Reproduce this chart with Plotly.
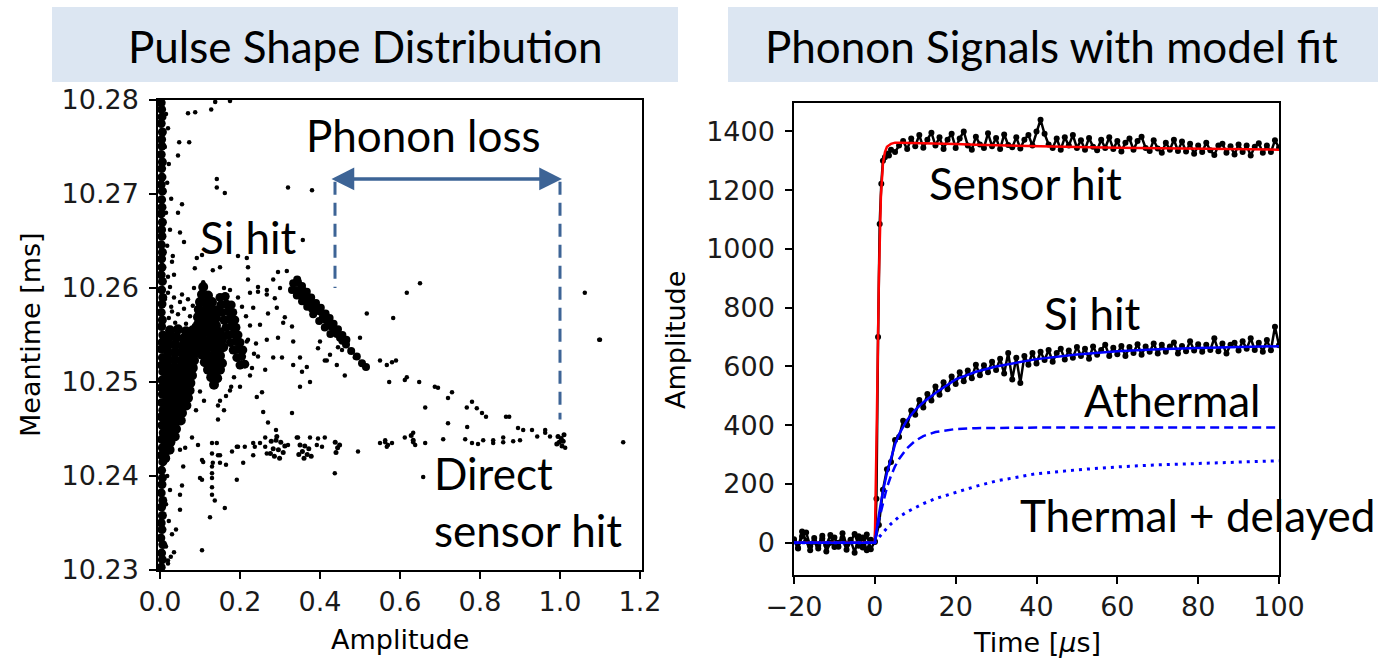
import plotly.graph_objects as go

# ---------------- Left panel: pulse shape distribution (amplitude, meantime [ms]) ----------------
band_amp = [0.003, 0.006, 0.004, 0.007, 0.002, 0.005, 0.003, 0.006, 0.004, 0.007, 0.003, 0.005, 0.006, 0.004,
            0.007, 0.003, 0.006, 0.004, 0.008, 0.005, 0.003, 0.007, 0.004, 0.006, 0.003, 0.005, 0.007, 0.004,
            0.006, 0.003, 0.005, 0.007, 0.004, 0.006, 0.003, 0.005, 0.007, 0.004, 0.006, 0.003, 0.005, 0.004,
            0.006, 0.003, 0.005, 0.004, 0.006, 0.003, 0.005, 0.004, 0.006, 0.003, 0.005, 0.004, 0.006, 0.003,
            0.005, 0.004, 0.006, 0.003, 0.005, 0.004, 0.003]
band_mt = [10.2303, 10.2311, 10.2318, 10.2327, 10.2334, 10.2343, 10.2350, 10.2358, 10.2367, 10.2374, 10.2382,
           10.2391, 10.2398, 10.2406, 10.2415, 10.2422, 10.2430, 10.2439, 10.2446, 10.2454, 10.2463, 10.2470,
           10.2478, 10.2487, 10.2494, 10.2502, 10.2511, 10.2518, 10.2526, 10.2535, 10.2542, 10.2550, 10.2559,
           10.2566, 10.2574, 10.2583, 10.2590, 10.2598, 10.2607, 10.2614, 10.2622, 10.2631, 10.2638, 10.2646,
           10.2655, 10.2662, 10.2670, 10.2679, 10.2686, 10.2694, 10.2703, 10.2710, 10.2718, 10.2727, 10.2734,
           10.2742, 10.2751, 10.2758, 10.2766, 10.2775, 10.2782, 10.2790, 10.2797]

blobB_amp = [0.025, 0.045, 0.065, 0.082,
             0.022, 0.040, 0.058, 0.076, 0.090,
             0.020, 0.038, 0.056, 0.074, 0.088,
             0.020, 0.038, 0.056, 0.072, 0.087,
             0.020, 0.037, 0.054, 0.070, 0.085,
             0.020, 0.036, 0.052, 0.068, 0.082,
             0.020, 0.035, 0.050, 0.066, 0.080,
             0.018, 0.034, 0.050, 0.064, 0.076,
             0.018, 0.033, 0.048, 0.062, 0.074,
             0.018, 0.032, 0.046, 0.060, 0.070,
             0.017, 0.031, 0.045, 0.058, 0.066,
             0.016, 0.030, 0.043, 0.055,
             0.016, 0.029, 0.041, 0.052,
             0.015, 0.028, 0.040,
             0.015, 0.027, 0.037,
             0.014, 0.026,
             0.014, 0.024,
             0.013]
blobB_mt = [10.2555, 10.2556, 10.2554, 10.2555,
            10.2547, 10.2548, 10.2546, 10.2547, 10.2548,
            10.2539, 10.2540, 10.2538, 10.2539, 10.2540,
            10.2531, 10.2532, 10.2530, 10.2531, 10.2531,
            10.2523, 10.2524, 10.2522, 10.2523, 10.2523,
            10.2515, 10.2516, 10.2514, 10.2515, 10.2515,
            10.2507, 10.2508, 10.2506, 10.2507, 10.2507,
            10.2499, 10.2500, 10.2498, 10.2499, 10.2499,
            10.2491, 10.2492, 10.2490, 10.2491, 10.2491,
            10.2483, 10.2484, 10.2482, 10.2483, 10.2483,
            10.2475, 10.2476, 10.2474, 10.2475, 10.2475,
            10.2467, 10.2468, 10.2466, 10.2467,
            10.2459, 10.2460, 10.2458, 10.2459,
            10.2451, 10.2452, 10.2450,
            10.2443, 10.2444, 10.2442,
            10.2435, 10.2436,
            10.2427, 10.2428,
            10.2419]

blobC_amp = [0.108,
             0.105, 0.120,
             0.100, 0.115, 0.130,
             0.097, 0.112, 0.127, 0.140,
             0.095, 0.110, 0.125, 0.140,
             0.095, 0.110, 0.125, 0.140,
             0.093, 0.108, 0.123, 0.138, 0.150,
             0.095, 0.110, 0.125, 0.140, 0.155,
             0.100, 0.115, 0.130, 0.145, 0.158,
             0.105, 0.120, 0.135, 0.150,
             0.112, 0.127, 0.142, 0.155,
             0.120, 0.135, 0.150,
             0.128, 0.143,
             0.135]
blobC_mt = [10.2601,
            10.2593, 10.2592,
            10.2585, 10.2584, 10.2585,
            10.2577, 10.2576, 10.2577, 10.2576,
            10.2569, 10.2568, 10.2569, 10.2568,
            10.2561, 10.2560, 10.2561, 10.2560,
            10.2553, 10.2552, 10.2553, 10.2552, 10.2553,
            10.2545, 10.2544, 10.2545, 10.2544, 10.2545,
            10.2537, 10.2536, 10.2537, 10.2536, 10.2537,
            10.2529, 10.2528, 10.2529, 10.2528,
            10.2521, 10.2520, 10.2521, 10.2520,
            10.2513, 10.2512, 10.2513,
            10.2505, 10.2504,
            10.2497]

blobD_amp = [0.150, 0.163,
             0.152, 0.166, 0.178,
             0.156, 0.170, 0.182,
             0.160, 0.174, 0.187,
             0.165, 0.178, 0.190,
             0.170, 0.183, 0.195,
             0.176, 0.189, 0.200,
             0.183, 0.196, 0.207,
             0.192, 0.204,
             0.200, 0.212]
blobD_mt = [10.2590, 10.2591,
            10.2582, 10.2583, 10.2582,
            10.2574, 10.2575, 10.2574,
            10.2566, 10.2567, 10.2566,
            10.2558, 10.2559, 10.2558,
            10.2550, 10.2551, 10.2550,
            10.2542, 10.2543, 10.2542,
            10.2534, 10.2535, 10.2534,
            10.2526, 10.2527,
            10.2518, 10.2519]

streak_amp = [0.333, 0.345, 0.340, 0.348, 0.358, 0.352, 0.363, 0.372, 0.366, 0.378, 0.386, 0.380, 0.392, 0.400,
              0.407, 0.414, 0.421, 0.428, 0.436, 0.442, 0.450, 0.456, 0.465, 0.478, 0.492, 0.505, 0.515,
              0.343, 0.355, 0.367, 0.378, 0.390, 0.402, 0.414, 0.424, 0.434, 0.445, 0.456, 0.466,
              0.330, 0.342, 0.355, 0.368, 0.383, 0.398, 0.412, 0.426]
streak_mt = [10.2605, 10.2606, 10.2598, 10.2598, 10.2597, 10.2592, 10.2591, 10.2590, 10.2585, 10.2584, 10.2582,
             10.2578, 10.2576, 10.2575, 10.2569, 10.2566, 10.2562, 10.2559, 10.2554, 10.2551, 10.2547, 10.2544,
             10.2540, 10.2533, 10.2527, 10.2520, 10.2516,
             10.2609, 10.2602, 10.2596, 10.2590, 10.2584, 10.2579, 10.2573, 10.2568, 10.2562, 10.2556, 10.2550,
             10.2545,
             10.2598, 10.2592, 10.2586, 10.2580, 10.2572, 10.2565, 10.2558, 10.2551]

cluster_amp = [0.278, 0.290, 0.302, 0.312, 0.283, 0.296, 0.308, 0.286, 0.299, 0.276, 0.292,
               0.350, 0.362, 0.372, 0.356, 0.368, 0.360, 0.347, 0.378,
               0.438, 0.444, 0.440, 0.449,
               0.995, 1.003, 1.008, 0.998, 1.005, 0.992, 1.010,
               0.628, 0.633]
cluster_mt = [10.2437, 10.2438, 10.2436, 10.2432, 10.2429, 10.2428, 10.2425, 10.2421, 10.2419, 10.2424, 10.2442,
              10.2433, 10.2432, 10.2429, 10.2426, 10.2423, 10.2419, 10.2423, 10.2421,
              10.2436, 10.2430, 10.2425, 10.2433,
              10.2442, 10.2440, 10.2437, 10.2436, 10.2432, 10.2434, 10.2444,
              10.2443, 10.2438]

sparse_pts = [
    (0.138, 10.2798), (0.175, 10.2799), (0.070, 10.2786), (0.088, 10.2787), (0.128, 10.2790), (0.048, 10.2755),
    (0.073, 10.2755), (0.045, 10.2741), (0.142, 10.2716), (0.142, 10.2707), (0.162, 10.2701), (0.320, 10.2707),
    (0.380, 10.2704), (0.055, 10.2689), (0.045, 10.2680), (0.050, 10.2659), (0.060, 10.2649), (0.357, 10.2651),
    (0.032, 10.2634), (0.092, 10.2632), (0.105, 10.2635), (0.195, 10.2634), (0.217, 10.2632), (0.087, 10.2621),
    (0.132, 10.2619), (0.150, 10.2622), (0.220, 10.2622), (0.295, 10.2617), (0.317, 10.2618), (0.035, 10.2614),
    (0.220, 10.2609), (0.283, 10.2609), (0.245, 10.2601), (0.267, 10.2598), (0.300, 10.2600), (0.108, 10.2606),
    (0.025, 10.2601), (0.617, 10.2595), (0.650, 10.2605), (1.062, 10.2595), (1.100, 10.2545), (0.517, 10.2573),
    (0.583, 10.2568), (1.158, 10.2436),
    (0.015, 10.2785), (0.020, 10.2770), (0.012, 10.2750), (0.022, 10.2732), (0.018, 10.2712), (0.028, 10.2695),
    (0.015, 10.2680), (0.025, 10.2662), (0.018, 10.2645), (0.030, 10.2628), (0.020, 10.2612), (0.018, 10.2400),
    (0.025, 10.2385), (0.015, 10.2370), (0.022, 10.2352), (0.030, 10.2338), (0.015, 10.2325), (0.020, 10.2310),
    (0.020, 10.2595), (0.035, 10.2590), (0.050, 10.2585), (0.028, 10.2580), (0.060, 10.2578), (0.045, 10.2572),
    (0.075, 10.2570), (0.022, 10.2568), (0.038, 10.2563), (0.065, 10.2562), (0.085, 10.2560), (0.030, 10.2575),
    (0.055, 10.2593), (0.070, 10.2588), (0.082, 10.2581), (0.012, 10.2588),
    (0.225, 10.2595), (0.245, 10.2596), (0.267, 10.2593), (0.287, 10.2589), (0.233, 10.2579), (0.270, 10.2573),
    (0.292, 10.2579), (0.312, 10.2569), (0.250, 10.2561), (0.308, 10.2563), (0.330, 10.2559), (0.220, 10.2545),
    (0.267, 10.2545), (0.295, 10.2547), (0.333, 10.2543), (0.208, 10.2531), (0.245, 10.2527), (0.283, 10.2526),
    (0.305, 10.2526), (0.350, 10.2526), (0.200, 10.2516), (0.225, 10.2507), (0.263, 10.2513), (0.333, 10.2518),
    (0.375, 10.2500), (0.417, 10.2523), (0.462, 10.2507), (0.175, 10.2491), (0.200, 10.2495), (0.242, 10.2484),
    (0.258, 10.2468), (0.400, 10.2543), (0.395, 10.2536), (0.425, 10.2529), (0.445, 10.2537), (0.455, 10.2534),
    (0.217, 10.2543), (0.240, 10.2541), (0.367, 10.2516), (0.355, 10.2511), (0.350, 10.2495), (0.412, 10.2523),
    (0.442, 10.2518), (0.487, 10.2526), (0.505, 10.2520), (0.500, 10.2547), (0.255, 10.2489), (0.290, 10.2449),
    (0.330, 10.2467), (0.270, 10.2457), (0.145, 10.2460),
    (0.550, 10.2523), (0.567, 10.2518), (0.580, 10.2521), (0.590, 10.2523), (0.573, 10.2500), (0.617, 10.2505),
    (0.612, 10.2502), (0.648, 10.2500), (0.687, 10.2495), (0.695, 10.2494), (0.730, 10.2489), (0.720, 10.2483),
    (0.663, 10.2473), (0.767, 10.2473), (0.780, 10.2479), (0.792, 10.2472), (0.805, 10.2467), (0.815, 10.2463),
    (0.865, 10.2463), (0.873, 10.2463), (0.720, 10.2456), (0.768, 10.2452), (0.895, 10.2451), (0.908, 10.2449),
    (0.930, 10.2449), (0.943, 10.2442), (0.963, 10.2449), (0.963, 10.2446), (0.975, 10.2442), (1.098, 10.2545),
    (0.563, 10.2436), (0.570, 10.2433), (0.580, 10.2435), (0.612, 10.2441), (0.633, 10.2446), (0.633, 10.2436),
    (0.638, 10.2433), (0.663, 10.2435), (0.708, 10.2439), (0.763, 10.2439), (0.780, 10.2435), (0.795, 10.2434),
    (0.808, 10.2438), (0.833, 10.2438), (0.833, 10.2435), (0.858, 10.2441), (0.858, 10.2436), (0.883, 10.2437),
    (0.900, 10.2438), (0.658, 10.2399), (1.013, 10.2430),
    (0.080, 10.2441), (0.095, 10.2433), (0.130, 10.2435), (0.142, 10.2435), (0.130, 10.2424), (0.150, 10.2422),
    (0.180, 10.2426), (0.192, 10.2431), (0.212, 10.2431), (0.233, 10.2435), (0.233, 10.2422), (0.250, 10.2435),
    (0.263, 10.2431), (0.320, 10.2433), (0.342, 10.2441), (0.375, 10.2441), (0.392, 10.2433), (0.412, 10.2441),
    (0.495, 10.2426), (0.550, 10.2435), (0.437, 10.2403), (0.063, 10.2430), (0.195, 10.2431), (0.263, 10.2441),
    (0.345, 10.2441), (0.395, 10.2440), (0.405, 10.2431), (0.563, 10.2438), (0.567, 10.2431), (0.267, 10.2424),
    (0.237, 10.2431), (0.208, 10.2414), (0.165, 10.2412), (0.150, 10.2414), (0.145, 10.2422), (0.105, 10.2417),
    (0.108, 10.2415), (0.105, 10.2396), (0.130, 10.2398), (0.130, 10.2388), (0.137, 10.2374), (0.192, 10.2396),
    (0.125, 10.2356), (0.162, 10.2366), (0.105, 10.2321), (0.055, 10.2390), (0.050, 10.2364), (0.050, 10.2428),
    (0.058, 10.2410), (0.050, 10.2380), (0.040, 10.2343), (0.035, 10.2319), (0.027, 10.2314), (0.020, 10.2307),
    (0.130, 10.2403), (0.130, 10.2410), (0.132, 10.2414), (0.100, 10.2398), (0.130, 10.2380),
    (0.085, 10.2600), (0.160, 10.2600), (0.175, 10.2598), (0.195, 10.2590), (0.205, 10.2580), (0.215, 10.2570),
    (0.225, 10.2560), (0.178, 10.2495), (0.165, 10.2485), (0.150, 10.2480), (0.160, 10.2470), (0.145, 10.2475),
    (0.185, 10.2505), (0.230, 10.2515), (0.235, 10.2530), (0.100, 10.2490), (0.110, 10.2480), (0.090, 10.2470),
]
sparse_amp = [p[0] for p in sparse_pts]
sparse_mt = [p[1] for p in sparse_pts]

# ---------------- Right panel: phonon signals ----------------
sensor_time = list(range(-20, 1)) + [0.4, 0.8, 1.2, 1.6, 2.0, 2.5, 3.0, 3.5, 4.0] + list(range(5, 101))
sensor_amp = [8, -18, 22, 35, -12, 4, -20, 14, -8, 26, -15, 0, 16, -24, 6, 30, -10, 18, -26, 10, 2,
              150, 700, 1085, 1222, 1300, 1312, 1325, 1318, 1338,
              1330, 1352, 1368, 1340, 1376, 1350, 1388, 1345, 1372, 1396,
              1352, 1380, 1340, 1372, 1392, 1344, 1376, 1400, 1352, 1338,
              1382, 1356, 1344, 1394, 1350, 1378, 1340, 1390, 1354, 1346,
              1380, 1342, 1372, 1388, 1352, 1400, 1440, 1392, 1356, 1344,
              1376, 1338, 1380, 1352, 1388, 1344, 1370, 1338, 1378, 1348,
              1336, 1372, 1344, 1380, 1340, 1368, 1332, 1362, 1376, 1338,
              1368, 1382, 1344, 1334, 1370, 1342, 1328, 1362, 1338, 1372,
              1334, 1366, 1332, 1358, 1324, 1352, 1330, 1362, 1336, 1320,
              1352, 1358, 1328, 1350, 1322, 1356, 1330, 1352, 1318, 1348,
              1360, 1328, 1352, 1330, 1370, 1345]

si_time = list(range(-20, 101))
si_amp = [12, -20, 38, 6, -26, 16, -10, 24, -30, 0, 18, -14, 32, -6, 10, -34, 22, -16, 28, -22, 5,
          60, 180, 250, 275, 350, 360, 415, 400, 450, 436,
          486, 460, 506, 484, 532, 504, 546, 522, 566, 540,
          580, 550, 586, 560, 606, 570, 604, 580, 616, 588,
          626, 576, 646, 556, 630, 544, 636, 606, 646, 610,
          650, 622, 656, 616, 646, 660, 624, 654, 630, 666,
          636, 660, 626, 668, 640, 656, 674, 636, 664, 642,
          670, 636, 666, 646, 676, 640, 668, 650, 678, 644,
          674, 650, 668, 682, 644, 670, 652, 686, 654, 676,
          650, 674, 656, 696, 652, 678, 644, 674, 681, 654,
          686, 660, 696, 656, 681, 650, 690, 655, 735, 672]

sensor_fit_time = [-20, 0, 0.5, 1, 1.5, 2, 2.5, 3, 4, 5, 6, 8, 10, 12, 15, 20, 25, 30, 40, 50, 60, 70, 80, 90, 100]
sensor_fit = [0, 0, 420, 900, 1180, 1290, 1330, 1348, 1358, 1362, 1362, 1361, 1360, 1359, 1358, 1357, 1355, 1353,
              1350, 1347, 1345, 1343, 1341, 1339, 1338]

si_fit_time = [-20, 0, 1, 2, 3, 4, 5, 6, 8, 10, 12, 15, 20, 25, 30, 40, 50, 60, 70, 80, 90, 100]
si_fit = [0, 0, 95, 175, 238, 290, 335, 370, 418, 452, 478, 510, 556, 582, 600, 625, 641, 652, 659, 663, 666, 669]
athermal_fit = [0, 0, 77, 138, 188, 228, 260, 285, 322, 347, 363, 377, 387, 390, 391, 392, 392, 392, 392, 392, 392, 392]
thermal_fit = [0, 0, 18, 35, 50, 64, 75, 88, 105, 120, 133, 150, 172, 192, 210, 235, 248, 258, 265, 270, 275, 279]

left_xticks = [0.0, 0.2, 0.4, 0.6, 0.8, 1.0, 1.2]
left_yticks = [10.23, 10.24, 10.25, 10.26, 10.27, 10.28]
right_xticks = [-20, 0, 20, 40, 60, 80, 100]
right_yticks = [0, 200, 400, 600, 800, 1000, 1200, 1400]

W, H = 1398, 659
ARROW = "#3d6496"
TICKFONT = dict(family="DejaVu Sans", size=27, color="#1a1a1a")
TXT = "Lato"


def px(xp):
    return xp / W


def py(yp):
    return 1 - yp / H


fig = go.Figure()

for xs, ys, mk in [
    (band_amp, band_mt, dict(color="black", size=9)),
    (blobB_amp, blobB_mt, dict(color="black", size=10)),
    (blobC_amp, blobC_mt, dict(color="black", size=10)),
    (blobD_amp, blobD_mt, dict(color="black", size=9)),
    (streak_amp, streak_mt, dict(color="black", size=8)),
    (cluster_amp, cluster_mt, dict(color="black", size=5)),
    (sparse_amp, sparse_mt, dict(color="black", size=4.5)),
]:
    fig.add_trace(go.Scatter(x=xs, y=ys, mode="markers", marker=mk, xaxis="x", yaxis="y",
                             showlegend=False, hoverinfo="skip"))

data_style = dict(mode="lines+markers", line=dict(color="black", width=2.5), marker=dict(color="black", size=6))
fig.add_trace(go.Scatter(x=sensor_time, y=sensor_amp, xaxis="x2", yaxis="y2", showlegend=False, **data_style))
fig.add_trace(go.Scatter(x=si_time, y=si_amp, xaxis="x2", yaxis="y2", showlegend=False, **data_style))
fig.add_trace(go.Scatter(x=sensor_fit_time, y=sensor_fit, mode="lines", line=dict(color="#ff0000", width=2.5),
                         xaxis="x2", yaxis="y2", showlegend=False))
fig.add_trace(go.Scatter(x=si_fit_time, y=athermal_fit, mode="lines",
                         line=dict(color="#0000ff", width=2.5, dash="9px,5px"),
                         xaxis="x2", yaxis="y2", showlegend=False))
fig.add_trace(go.Scatter(x=si_fit_time, y=thermal_fit, mode="lines",
                         line=dict(color="#0000ff", width=3, dash="3px,5px"),
                         xaxis="x2", yaxis="y2", showlegend=False))
fig.add_trace(go.Scatter(x=si_fit_time, y=si_fit, mode="lines", line=dict(color="#0000ff", width=2.5),
                         xaxis="x2", yaxis="y2", showlegend=False))

axis_common = dict(showline=True, mirror=True, linecolor="black", linewidth=1.5, ticks="outside",
                   ticklen=7, tickwidth=1.5, tickcolor="black", showgrid=False, zeroline=False,
                   tickfont=TICKFONT, automargin=False)

fig.update_layout(
    template="none",
    width=W, height=H, margin=dict(l=0, r=0, t=0, b=0, pad=0),
    paper_bgcolor="white", plot_bgcolor="white",
    xaxis=dict(domain=[px(158), px(642)], range=[-0.005, 1.205], tickvals=left_xticks,
               ticktext=[f"{v:.1f}" for v in left_xticks], anchor="y", ticklabelstandoff=0, **axis_common),
    yaxis=dict(domain=[py(570), py(100)], range=[10.23, 10.28], tickvals=left_yticks,
               ticktext=[f"{v:.2f}" for v in left_yticks], anchor="x", ticklabelstandoff=5, **axis_common),
    xaxis2=dict(domain=[px(794), px(1279)], range=[-20, 100], tickvals=right_xticks,
                ticktext=[("\u2212" + str(-v)) if v < 0 else str(v) for v in right_xticks], anchor="y2",
                ticklabelstandoff=0, **axis_common),
    yaxis2=dict(domain=[py(575), py(103)], range=[-110, 1497], tickvals=right_yticks,
                ticktext=[str(v) for v in right_yticks], anchor="x2", ticklabelstandoff=5, **axis_common),
)

# title boxes
fig.add_shape(type="rect", xref="paper", yref="paper", x0=px(52), x1=px(678), y0=py(82), y1=py(7),
              fillcolor="#dce6f2", line=dict(width=0), layer="below")
fig.add_shape(type="rect", xref="paper", yref="paper", x0=px(728), x1=px(1378), y0=py(82), y1=py(7),
              fillcolor="#dce6f2", line=dict(width=0), layer="below")

# phonon loss markers
fig.add_shape(type="line", xref="x", yref="y", x0=0.4375, x1=0.4375, y0=10.2713, y1=10.2600,
              line=dict(color=ARROW, width=3, dash="13px,8px"))
fig.add_shape(type="line", xref="x", yref="y", x0=1.0, x1=1.0, y0=10.2713, y1=10.2460,
              line=dict(color=ARROW, width=3, dash="13px,8px"))
fig.add_annotation(x=1.005, y=10.2716, ax=0.425, ay=10.2716, xref="x", yref="y", axref="x", ayref="y",
                   text="", showarrow=True, arrowhead=2, arrowside="end+start", arrowsize=1.3,
                   arrowwidth=3.5, arrowcolor=ARROW, standoff=0, startstandoff=0)


def label(text, xp, yp, size, xanchor="center", angle=0, family=TXT):
    fig.add_annotation(x=px(xp), y=py(yp), xref="paper", yref="paper", text=text, showarrow=False,
                       xanchor=xanchor, yanchor="middle", textangle=angle,
                       font=dict(family=family, size=size, color="black"))


label("Pulse Shape Distribution", 365, 46, 44)
label("Phonon Signals with model fit", 1051, 46, 44)
label("Phonon loss", 423, 135, 44)
label("Si hit", 248, 237, 44)
label("Direct", 432, 473, 44, xanchor="left")
label("sensor hit", 432, 530, 44, xanchor="left")
label("Sensor hit", 1025, 183, 44)
label("Si hit", 1092, 313, 44)
label("Athermal", 1172, 400, 44)
label("Thermal + delayed", 1197, 515, 44)

label("Meantime [ms]", 30, 335, 27, angle=-90, family="DejaVu Sans")
label("Amplitude", 675, 340, 27, angle=-90, family="DejaVu Sans")
label("Amplitude", 400, 639, 27, family="DejaVu Sans")
label("Time [<i>\u03bc</i>s]", 1037, 642, 27, family="DejaVu Sans")

fig.write_html("out.html")
